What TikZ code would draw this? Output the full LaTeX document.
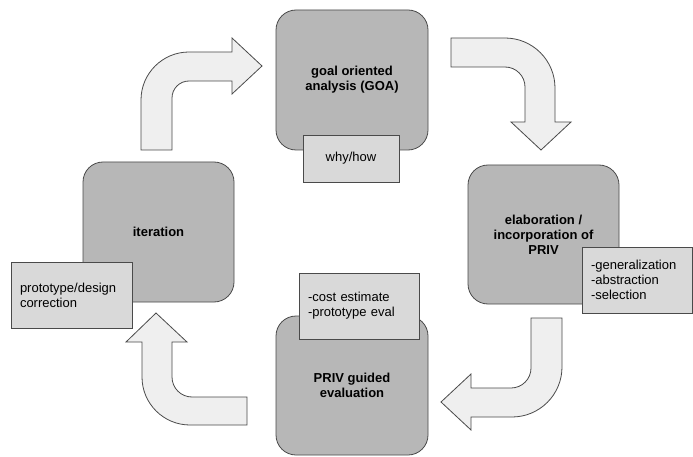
\documentclass[tikz,border=0pt]{standalone}
\usepackage{fontspec}
\setmainfont{Liberation Sans}
\definecolor{boxfill}{HTML}{B7B7B7}
\definecolor{labfill}{HTML}{D9D9D9}
\definecolor{arrfill}{HTML}{EFEFEF}
\definecolor{edge}{HTML}{4A4A4A}
\begin{document}
\begin{tikzpicture}[x=1pt,y=-1pt,
  mainbox/.style={draw=edge, line width=0.8pt, fill=boxfill, rounded corners=20pt,
    align=center, font=\fontsize{13}{15}\selectfont\bfseries, inner sep=0pt},
  labbox/.style={draw=edge, line width=0.8pt, fill=labfill, inner xsep=9pt, inner ysep=0pt,
    align=left, font=\fontsize{13}{15}\selectfont},
  blockarrow/.style={draw=edge, line width=0.8pt, fill=arrfill, line join=miter}]
\useasboundingbox (0,0) rectangle (693,457);
\fill[white] (0,0) rectangle (693,457);

% block arrows
\draw[blockarrow] (141,150) -- (141,100) arc[start angle=180, end angle=270, radius=48]
  -- (232,52) -- (232,38) -- (262,66) -- (232,94) -- (232,81) -- (189,81)
  arc[start angle=270, end angle=180, radius=17] -- (172,150) -- cycle;
\draw[blockarrow] (451,38) -- (505,38) arc[start angle=270, end angle=360, radius=50]
  -- (555,122) -- (571,122) -- (541,150) -- (511,122) -- (525,122) -- (525,87)
  arc[start angle=0, end angle=-90, radius=20] -- (451,67) -- cycle;
\draw[blockarrow] (531,318) -- (562,318) -- (562,367) arc[start angle=0, end angle=90, radius=50]
  -- (471,417) -- (471,430) -- (441,402) -- (471,374) -- (471,388) -- (511,388)
  arc[start angle=90, end angle=0, radius=20] -- cycle;
\draw[blockarrow] (156,313) -- (187,342) -- (172,342) -- (172,377)
  arc[start angle=180, end angle=90, radius=20] -- (247,397) -- (247,425) -- (190,425)
  arc[start angle=90, end angle=180, radius=48] -- (142,342) -- (126,342) -- cycle;

% main boxes
\node[mainbox, minimum width=152pt, minimum height=140pt] (goa) at (352,80) {goal oriented\\analysis (GOA)};
\node[mainbox, minimum width=151pt, minimum height=140pt] (iter) at (158.5,232) {iteration};
\node[mainbox, minimum width=151pt, minimum height=139pt] (elab) at (543.5,234.5) {elaboration /\\incorporation of\\PRIV};
\node[mainbox, minimum width=152pt, minimum height=139pt] (priv) at (352,385.5) {PRIV guided\\evaluation};

% label boxes
\node[labbox, align=center, text width=78pt, minimum height=47pt] (why) at (351,158.5) {why/how};
\node[labbox, text width=92pt, minimum height=66pt] (gen) at (637,280) {-generalization\\-abstraction\\-selection};
\node[labbox, text width=102pt, minimum height=66pt] (cost) at (359,306) {-cost estimate\\-prototype eval};
\node[labbox, text width=103pt, minimum height=66pt] (proto) at (71.5,295) {prototype/design\\correction};
\end{tikzpicture}
\end{document}
